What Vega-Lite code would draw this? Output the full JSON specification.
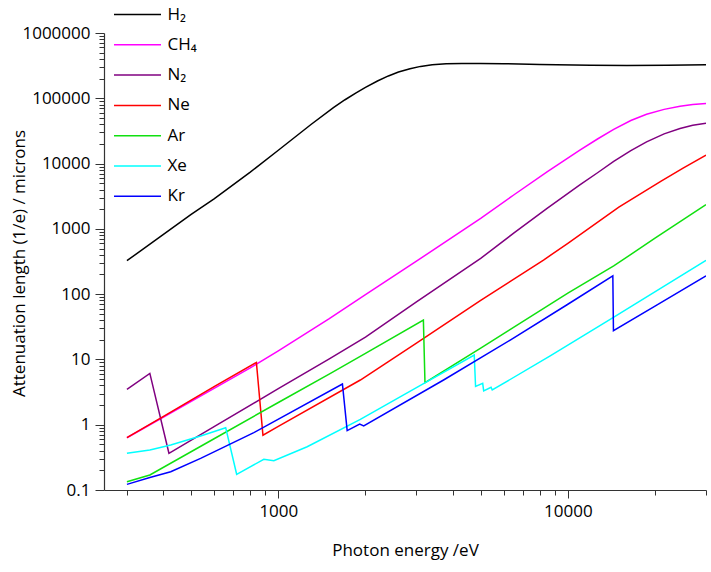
{
  "$schema": "https://vega.github.io/schema/vega-lite/v6.json",
  "autosize": {"type": "none"},
  "padding": {"left": 104, "top": 33, "right": 5, "bottom": 82},
  "width": 602,
  "height": 457,
  "background": "white",
  "config": {"view": {"stroke": null}, "font": "Open Sans"},
  "data": {"values": [
    {"gas":"H₂","E":300,"L":325},{"gas":"H₂","E":400,"L":816},{"gas":"H₂","E":500,"L":1670},{"gas":"H₂","E":600,"L":2880},{"gas":"H₂","E":800,"L":7400},{"gas":"H₂","E":1000,"L":16000},{"gas":"H₂","E":1300,"L":40000},{"gas":"H₂","E":1550,"L":72000},{"gas":"H₂","E":1700,"L":95000},{"gas":"H₂","E":1850,"L":120000},{"gas":"H₂","E":2000,"L":147000},{"gas":"H₂","E":2200,"L":184000},{"gas":"H₂","E":2400,"L":220000},{"gas":"H₂","E":2600,"L":252000},{"gas":"H₂","E":2850,"L":284000},{"gas":"H₂","E":3100,"L":308000},{"gas":"H₂","E":3400,"L":326000},{"gas":"H₂","E":3800,"L":337000},{"gas":"H₂","E":4300,"L":341000},{"gas":"H₂","E":5000,"L":341500},{"gas":"H₂","E":6000,"L":338000},{"gas":"H₂","E":8000,"L":330000},{"gas":"H₂","E":12000,"L":322000},{"gas":"H₂","E":16000,"L":318000},{"gas":"H₂","E":22000,"L":320000},{"gas":"H₂","E":30000,"L":325000},
    {"gas":"CH₄","E":300,"L":0.632},{"gas":"CH₄","E":400,"L":1.3},{"gas":"CH₄","E":600,"L":3.6},{"gas":"CH₄","E":800,"L":7.4},{"gas":"CH₄","E":1000,"L":13.5},{"gas":"CH₄","E":1500,"L":42},{"gas":"CH₄","E":2000,"L":98},{"gas":"CH₄","E":3000,"L":320},{"gas":"CH₄","E":5000,"L":1450},{"gas":"CH₄","E":6500,"L":3300},{"gas":"CH₄","E":8500,"L":7500},{"gas":"CH₄","E":11000,"L":16000},{"gas":"CH₄","E":12700,"L":24000},{"gas":"CH₄","E":14400,"L":33400},{"gas":"CH₄","E":16500,"L":45600},{"gas":"CH₄","E":18700,"L":56800},{"gas":"CH₄","E":21500,"L":67600},{"gas":"CH₄","E":24400,"L":75300},{"gas":"CH₄","E":27000,"L":80000},{"gas":"CH₄","E":30000,"L":83500},
    {"gas":"N₂","E":300,"L":3.48},{"gas":"N₂","E":360,"L":6.1},{"gas":"N₂","E":419,"L":0.365},{"gas":"N₂","E":600,"L":0.935},{"gas":"N₂","E":1000,"L":3.57},{"gas":"N₂","E":1500,"L":10.2},{"gas":"N₂","E":2000,"L":22},{"gas":"N₂","E":3000,"L":76},{"gas":"N₂","E":5000,"L":353},{"gas":"N₂","E":6500,"L":860},{"gas":"N₂","E":8500,"L":2080},{"gas":"N₂","E":11000,"L":4700},{"gas":"N₂","E":12700,"L":7300},{"gas":"N₂","E":14400,"L":10800},{"gas":"N₂","E":16500,"L":15800},{"gas":"N₂","E":18700,"L":21500},{"gas":"N₂","E":21500,"L":28500},{"gas":"N₂","E":24400,"L":34500},{"gas":"N₂","E":27000,"L":38500},{"gas":"N₂","E":30000,"L":41500},
    {"gas":"Ne","E":300,"L":0.632},{"gas":"Ne","E":400,"L":1.33},{"gas":"Ne","E":600,"L":3.83},{"gas":"Ne","E":840,"L":9.0},{"gas":"Ne","E":885,"L":0.69},{"gas":"Ne","E":1000,"L":0.94},{"gas":"Ne","E":1920,"L":4.84},{"gas":"Ne","E":3000,"L":17.7},{"gas":"Ne","E":5000,"L":80},{"gas":"Ne","E":8240,"L":333},{"gas":"Ne","E":10000,"L":600},{"gas":"Ne","E":15000,"L":2150},{"gas":"Ne","E":21000,"L":5400},{"gas":"Ne","E":25000,"L":8500},{"gas":"Ne","E":30000,"L":13500},
    {"gas":"Ar","E":300,"L":0.134},{"gas":"Ar","E":360,"L":0.17},{"gas":"Ar","E":600,"L":0.61},{"gas":"Ar","E":1000,"L":2.19},{"gas":"Ar","E":1514,"L":6.12},{"gas":"Ar","E":2000,"L":12.4},{"gas":"Ar","E":3170,"L":40},{"gas":"Ar","E":3210,"L":4.4},{"gas":"Ar","E":5000,"L":14.9},{"gas":"Ar","E":10000,"L":104},{"gas":"Ar","E":14400,"L":270},{"gas":"Ar","E":20000,"L":720},{"gas":"Ar","E":30000,"L":2350},
    {"gas":"Xe","E":300,"L":0.365},{"gas":"Xe","E":360,"L":0.41},{"gas":"Xe","E":425,"L":0.49},{"gas":"Xe","E":539,"L":0.67},{"gas":"Xe","E":658,"L":0.9},{"gas":"Xe","E":718,"L":0.174},{"gas":"Xe","E":891,"L":0.295},{"gas":"Xe","E":965,"L":0.281},{"gas":"Xe","E":1258,"L":0.46},{"gas":"Xe","E":1920,"L":1.21},{"gas":"Xe","E":3000,"L":3.7},{"gas":"Xe","E":4750,"L":11.7},{"gas":"Xe","E":4800,"L":3.85},{"gas":"Xe","E":5080,"L":4.3},{"gas":"Xe","E":5120,"L":3.3},{"gas":"Xe","E":5430,"L":3.75},{"gas":"Xe","E":5480,"L":3.4},{"gas":"Xe","E":8690,"L":11.3},{"gas":"Xe","E":14370,"L":44.2},{"gas":"Xe","E":30000,"L":330},
    {"gas":"Kr","E":300,"L":0.122},{"gas":"Kr","E":360,"L":0.155},{"gas":"Kr","E":425,"L":0.19},{"gas":"Kr","E":539,"L":0.305},{"gas":"Kr","E":823,"L":0.755},{"gas":"Kr","E":1665,"L":4.2},{"gas":"Kr","E":1729,"L":0.81},{"gas":"Kr","E":1910,"L":1.02},{"gas":"Kr","E":1972,"L":0.955},{"gas":"Kr","E":3722,"L":4.84},{"gas":"Kr","E":6324,"L":19.8},{"gas":"Kr","E":10000,"L":70},{"gas":"Kr","E":14300,"L":191},{"gas":"Kr","E":14370,"L":27.5},{"gas":"Kr","E":20000,"L":65.6},{"gas":"Kr","E":30000,"L":191}
  ]},
  "mark": {"type": "line", "strokeWidth": 1.5, "clip": true},
  "encoding": {
    "x": {
      "field": "E", "type": "quantitative",
      "scale": {"type": "log", "domain": [250, 30000], "nice": false},
      "axis": {
        "values": [300,400,500,600,700,800,900,1000,2000,3000,4000,5000,6000,7000,8000,9000,10000,20000,30000],
        "format": "~f",
        "labelExpr": "abs(log(datum.value)/LN10 - round(log(datum.value)/LN10)) < 0.001 ? datum.label : ''",
        "tickSize": {"condition": {"test": "abs(log(datum.value)/LN10 - round(log(datum.value)/LN10)) < 0.001", "value": 8}, "value": 5},
        "labelOverlap": false, "labelFlush": false, "labelBound": false,
        "grid": false,
        "title": "Photon energy /eV",
        "titleFontSize": 17, "titleFontWeight": "normal", "titleColor": "black",
        "titlePadding": 23,
        "labelFontSize": 17, "labelColor": "black", "labelPadding": 5,
        "domainColor": "#333", "tickColor": "#333", "domainWidth": 1.2, "tickWidth": 1
      }
    },
    "y": {
      "field": "L", "type": "quantitative",
      "scale": {"type": "log", "domain": [0.1, 1000000], "nice": false},
      "axis": {
        "values": [0.1,0.2,0.3,0.4,0.5,0.6,0.7,0.8,0.9,1,2,3,4,5,6,7,8,9,10,20,30,40,50,60,70,80,90,100,200,300,400,500,600,700,800,900,1000,2000,3000,4000,5000,6000,7000,8000,9000,10000,20000,30000,40000,50000,60000,70000,80000,90000,100000,200000,300000,400000,500000,600000,700000,800000,900000,1000000],
        "format": "~f",
        "labelExpr": "abs(log(datum.value)/LN10 - round(log(datum.value)/LN10)) < 0.001 ? datum.label : ''",
        "tickSize": {"condition": {"test": "abs(log(datum.value)/LN10 - round(log(datum.value)/LN10)) < 0.001", "value": 9}, "value": 5},
        "labelOverlap": false, "labelFlush": false, "labelBound": false,
        "grid": false,
        "title": "Attenuation length (1/e) / microns",
        "titleFontSize": 17, "titleFontWeight": "normal", "titleColor": "black",
        "titleX": -76, "titleY": 230, "titleBaseline": "bottom", "titleAlign": "center", "titleAngle": -90,
        "labelFontSize": 17, "labelColor": "black", "labelPadding": 5,
        "domainColor": "#333", "tickColor": "#333", "domainWidth": 1.2, "tickWidth": 1
      }
    },
    "color": {
      "field": "gas", "type": "nominal",
      "scale": {
        "domain": ["H₂","CH₄","N₂","Ne","Ar","Xe","Kr"],
        "range": ["#000000","#ff00ff","#800080","#ff0000","#10e010","#00ffff","#0000ff"]
      },
      "legend": {
        "orient": "none", "legendX": 21, "legendY": -31,
        "title": null,
        "symbolType": "M-2,0H2", "symbolSize": 552, "symbolStrokeWidth": 1.5,
        "labelFontSize": 17, "labelColor": "black", "labelOffset": 17.5,
        "labelFont": "Open Sans, Noto Sans, DejaVu Sans",
        "rowPadding": 9.3
      }
    }
  }
}
